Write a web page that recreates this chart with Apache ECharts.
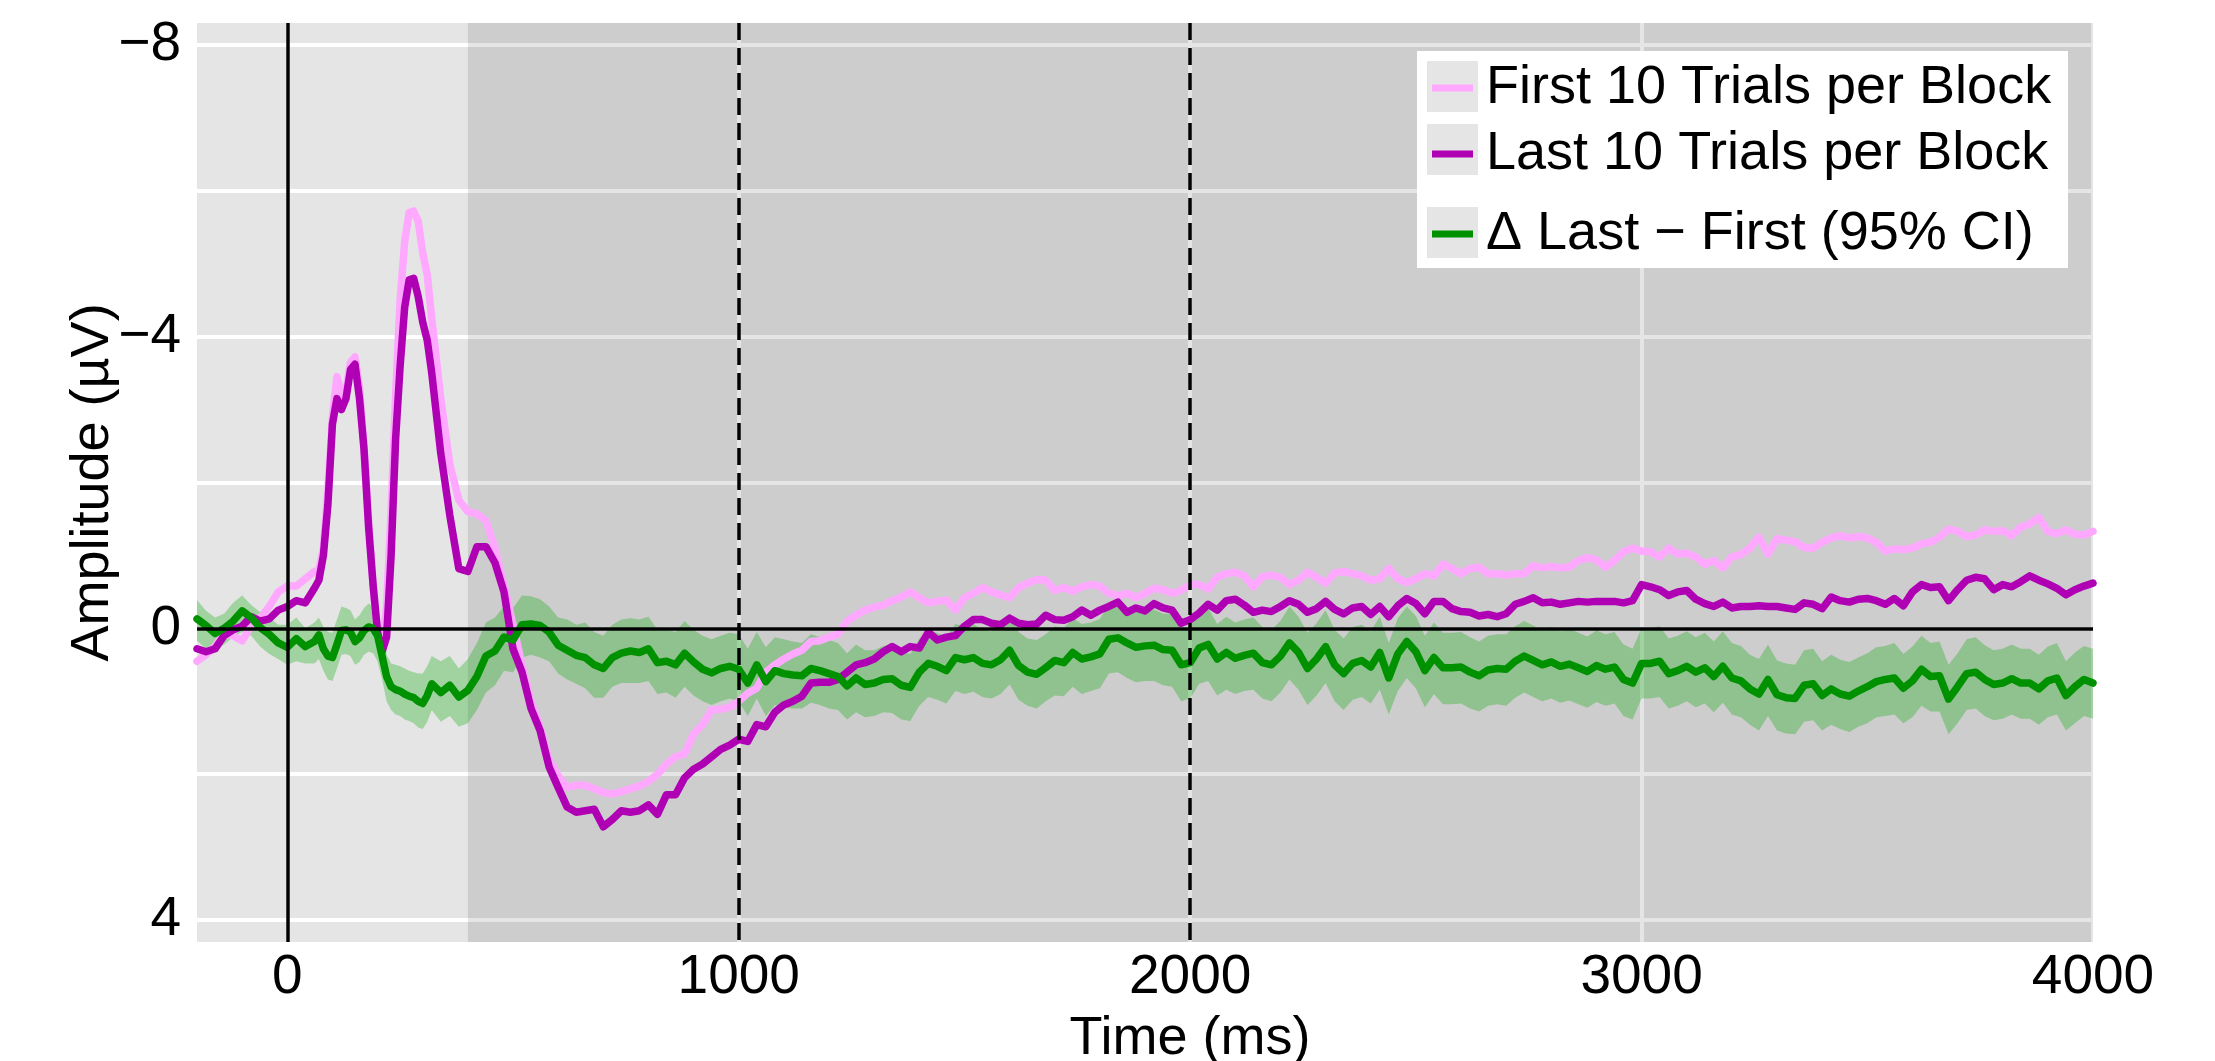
<!DOCTYPE html>
<html>
<head>
<meta charset="utf-8">
<script src="https://cdn.jsdelivr.net/npm/echarts@6/dist/echarts.min.js"></script>
<style>
html,body{margin:0;padding:0;background:#fff;}
#chart{width:2215px;height:1061px;}
</style>
</head>
<body>
<div id="chart"></div>
<script>
// ---- data (time in ms, amplitude in µV) ----
const times = [
  -200,-180,-160,-140,-120,-100,-80,-60,-40,-20,0,20,40,
  60,70,80,90,100,110,120,130,140,150,
  160,170,180,190,200,210,220,230,240,250,
  260,270,280,290,300,310,320,
  340,360,380,400,420,440,460,480,500,520,
  540,560,580,600,620,640,660,680,700,720,
  740,760,780,800,820,840,860,880,900,920,
  940,960,980,1000,1020,1040,1060,1080,1100,1120,
  1140,1160,1180,1200,1220,1240,1260,1280,1300,1320,
  1340,1360,1380,1400,1420,1440,1460,1480,1500,1520,
  1540,1560,1580,1600,1620,1640,1660,1680,1700,1720,
  1740,1760,1780,1800,1820,1840,1860,1880,1900,1920,
  1940,1960,1980,2000,2020,2040,2060,2080,2100,2120,
  2140,2160,2180,2200,2220,2240,2260,2280,2300,2320,
  2340,2360,2380,2400,2420,2440,2460,2480,2500,2520,
  2540,2560,2580,2600,2620,2640,2660,2680,2700,2720,
  2740,2760,2780,2800,2820,2840,2860,2880,2900,2920,
  2940,2960,2980,3000,3020,3040,3060,3080,3100,3120,
  3140,3160,3180,3200,3220,3240,3260,3280,3300,3320,
  3340,3360,3380,3400,3420,3440,3460,3480,3500,3520,
  3540,3560,3580,3600,3620,3640,3660,3680,3700,3720,
  3740,3760,3780,3800,3820,3840,3860,3880,3900,3920,
  3940,3960,3980,4000
];

const firstTrials = [
  .45,.36,.24,.08,.10,.17,-.03,-.14,-.30,-.50,-.58,-.58,-.68,
  -.78,-.80,-1.1,-1.9,-2.9,-3.45,-3.2,-3.25,-3.65,-3.72,
  -3.3,-2.5,-1.5,-.6,.05,.25,-.3,-1.6,-3.2,-4.5,
  -5.3,-5.7,-5.72,-5.58,-5.15,-4.85,-4.25,
  -3.15,-2.25,-1.76,-1.6,-1.57,-1.48,-1.1,-.6,-.05,.5,
  1.0,1.35,1.8,2.02,2.18,2.15,2.15,2.2,2.25,2.27,
  2.24,2.2,2.16,2.1,2.0,1.86,1.76,1.72,1.45,1.32,
  1.12,1.11,1.08,1.0,.89,.82,.6,.5,.42,.35,
  .3,.18,.17,.12,.08,-.1,-.18,-.25,-.29,-.32,
  -.38,-.43,-.5,-.42,-.35,-.37,-.39,-.25,-.42,-.48,
  -.56,-.5,-.46,-.42,-.56,-.62,-.67,-.66,-.52,-.56,
  -.51,-.57,-.6,-.58,-.48,-.45,-.48,-.42,-.48,-.55,
  -.53,-.48,-.52,-.6,-.6,-.54,-.7,-.75,-.77,-.72,
  -.57,-.71,-.73,-.7,-.6,-.66,-.77,-.7,-.62,-.76,
  -.78,-.75,-.72,-.66,-.68,-.82,-.68,-.63,-.68,-.75,
  -.72,-.88,-.82,-.75,-.82,-.84,-.75,-.75,-.73,-.75,
  -.75,-.86,-.83,-.85,-.83,-.84,-.93,-.97,-.94,-.84,
  -.93,-1.05,-1.1,-1.06,-1.05,-.98,-1.1,-1.02,-1.03,-.98,
  -.88,-.93,-.83,-.98,-1.01,-1.1,-1.25,-1.02,-1.23,-1.21,
  -1.19,-1.11,-1.1,-1.18,-1.24,-1.27,-1.24,-1.26,-1.24,-1.18,
  -1.06,-1.09,-1.08,-1.1,-1.16,-1.18,-1.25,-1.36,-1.33,-1.26,
  -1.28,-1.35,-1.33,-1.34,-1.27,-1.39,-1.43,-1.52,-1.33,-1.3,
  -1.35,-1.29,-1.28,-1.33
];

const lastTrials = [
  .28,.32,.28,.10,.02,-.03,-.16,-.10,-.13,-.25,-.30,-.38,-.35,
  -.55,-.66,-1.0,-1.7,-2.8,-3.15,-3.0,-3.15,-3.55,-3.62,
  -3.15,-2.45,-1.4,-.6,.05,.32,.12,-1.0,-2.6,-3.6,
  -4.4,-4.78,-4.8,-4.55,-4.2,-3.95,-3.5,
  -2.4,-1.55,-.82,-.78,-1.12,-1.12,-.9,-.5,.28,.6,
  1.1,1.4,1.9,2.18,2.45,2.52,2.5,2.48,2.72,2.62,
  2.5,2.52,2.5,2.42,2.55,2.28,2.28,2.05,1.93,1.86,
  1.76,1.66,1.6,1.52,1.55,1.32,1.35,1.15,1.05,1.0,
  .93,.75,.74,.74,.7,.6,.5,.47,.42,.32,
  .25,.32,.25,.27,.05,.16,.12,.1,-.03,-.12,
  -.12,-.07,-.05,-.14,-.07,-.05,-.06,-.18,-.12,-.11,
  -.16,-.25,-.18,-.25,-.3,-.36,-.22,-.28,-.24,-.34,
  -.28,-.25,-.07,-.12,-.21,-.33,-.25,-.38,-.4,-.32,
  -.22,-.25,-.23,-.3,-.38,-.33,-.22,-.27,-.37,-.26,
  -.2,-.28,-.3,-.19,-.3,-.16,-.31,-.41,-.34,-.2,
  -.37,-.37,-.27,-.23,-.22,-.17,-.19,-.16,-.2,-.33,
  -.37,-.42,-.35,-.36,-.33,-.35,-.37,-.36,-.37,-.37,
  -.37,-.35,-.38,-.6,-.57,-.53,-.45,-.5,-.52,-.4,
  -.34,-.3,-.36,-.28,-.3,-.3,-.31,-.3,-.3,-.28,
  -.26,-.35,-.33,-.27,-.43,-.38,-.36,-.4,-.41,-.38,
  -.33,-.41,-.31,-.5,-.6,-.56,-.57,-.38,-.53,-.66,
  -.7,-.68,-.53,-.6,-.57,-.64,-.72,-.66,-.61,-.55,
  -.46,-.53,-.58,-.62
];

const diffLastFirst = [
  -.13,-.04,.07,.0,-.10,-.24,-.15,-.01,.08,.2,.26,.14,.25,
  .18,.09,.28,.38,.4,.22,.03,.02,.05,.18,
  .13,.03,-.02,.0,.1,.38,.66,.8,.84,.86,
  .9,.93,.95,1.0,1.03,.92,.76,
  .88,.78,.94,.85,.66,.38,.31,.12,.16,-.05,
  -.06,-.04,.05,.23,.3,.37,.4,.5,.55,.4,
  .34,.31,.33,.28,.47,.45,.5,.34,.46,.56,
  .61,.55,.52,.56,.75,.5,.73,.58,.62,.64,
  .65,.55,.58,.62,.66,.79,.68,.77,.75,.7,
  .69,.78,.81,.6,.48,.52,.58,.4,.43,.4,
  .48,.5,.43,.3,.51,.6,.63,.54,.44,.47,
  .33,.42,.39,.35,.15,.13,.2,.26,.24,.23,
  .29,.3,.5,.47,.27,.22,.42,.33,.41,.37,
  .34,.47,.5,.38,.2,.33,.55,.42,.25,.5,
  .62,.48,.44,.53,.33,.68,.35,.18,.32,.58,
  .4,.54,.54,.53,.6,.65,.57,.55,.56,.45,
  .38,.44,.5,.46,.52,.49,.54,.59,.51,.56,
  .53,.7,.75,.48,.48,.45,.62,.58,.52,.6,
  .54,.66,.52,.68,.72,.83,.9,.7,.91,.95,
  .96,.78,.76,.92,.83,.9,.93,.86,.8,.73,
  .7,.68,.82,.72,.56,.66,.65,.97,.8,.62,
  .6,.7,.77,.75,.69,.75,.75,.83,.72,.68,
  .92,.8,.7,.75
];

const ciLower = [
  -.39,-.24,-.15,-.2,-.35,-.45,-.32,-.22,-.15,-.05,-.05,-.15,.0,
  -.08,-.15,-.02,.05,.06,-.12,-.3,-.28,-.25,-.12,
  -.18,-.28,-.34,-.3,-.2,.08,.36,.48,.5,.52,
  .55,.58,.6,.62,.62,.52,.38,
  .45,.38,.55,.42,.2,-.08,-.15,-.3,-.28,-.45,
  -.44,-.4,-.3,-.15,-.12,-.05,-.08,.05,.1,-.05,
  -.12,-.14,-.12,-.16,.02,.02,.05,-.1,.02,.1,
  .15,.1,.06,.08,.28,.05,.26,.12,.15,.18,
  .2,.08,.12,.16,.2,.34,.22,.3,.3,.24,
  .22,.32,.35,.14,.03,.06,.12,-.06,-.03,-.06,
  .02,.04,-.03,-.18,.05,.14,.16,.08,-.03,.0,
  -.14,-.06,-.08,-.13,-.33,-.35,-.28,-.22,-.24,-.26,
  -.2,-.2,.02,-.02,-.24,-.28,-.06,-.16,-.08,-.12,
  -.15,-.02,.02,-.1,-.3,-.16,.06,-.07,-.25,.02,
  .14,-.02,-.05,.04,-.16,.2,-.14,-.3,-.17,.1,
  -.08,.06,.06,.05,.12,.18,.1,.08,.08,-.03,
  -.1,-.04,.03,-.02,.04,.01,.06,.11,.03,.08,
  .05,.22,.28,.0,.0,-.03,.14,.1,.04,.12,
  .06,.18,.04,.2,.24,.36,.42,.22,.44,.48,
  .5,.3,.28,.45,.36,.43,.46,.4,.34,.26,
  .24,.2,.35,.25,.1,.2,.18,.5,.34,.15,
  .12,.23,.3,.28,.22,.28,.28,.36,.25,.2,
  .45,.33,.24,.28
];

const ciUpper = [
  .17,.28,.3,.22,.12,.05,.1,.25,.35,.42,.5,.45,.48,
  .48,.42,.58,.7,.72,.55,.36,.35,.38,.5,
  .46,.36,.32,.34,.45,.7,1.0,1.12,1.18,1.2,
  1.25,1.27,1.3,1.36,1.38,1.28,1.12,
  1.28,1.2,1.35,1.3,1.12,.88,.78,.58,.6,.4,
  .36,.4,.45,.62,.7,.76,.82,.95,.95,.8,
  .75,.75,.75,.72,.9,.88,.95,.8,.92,1.0,
  1.05,1.0,.96,1.0,1.2,.96,1.2,1.05,1.08,1.1,
  1.1,1.02,1.05,1.1,1.12,1.25,1.15,1.22,1.2,1.15,
  1.16,1.25,1.27,1.06,.94,.98,1.03,.86,.9,.87,
  .94,.96,.9,.77,.98,1.06,1.1,1.0,.92,.93,
  .8,.9,.86,.82,.62,.6,.68,.74,.72,.72,
  .78,.8,1.0,.96,.76,.72,.92,.84,.9,.86,
  .84,.96,1.0,.88,.7,.84,1.05,.92,.75,1.0,
  1.12,.98,.94,1.03,.84,1.18,.86,.68,.82,1.08,
  .9,1.04,1.04,1.03,1.1,1.14,1.06,1.04,1.06,.95,
  .88,.94,1.0,.96,1.02,.99,1.04,1.09,1.01,1.06,
  1.03,1.2,1.25,.96,.96,.94,1.1,1.06,1.0,1.08,
  1.03,1.15,1.02,1.18,1.22,1.32,1.4,1.2,1.4,1.44,
  1.45,1.28,1.26,1.4,1.32,1.38,1.42,1.35,1.3,1.22,
  1.2,1.18,1.3,1.22,1.06,1.14,1.14,1.45,1.3,1.12,
  1.1,1.2,1.26,1.24,1.18,1.24,1.24,1.32,1.22,1.18,
  1.4,1.3,1.2,1.24
];

const xTickLabels = [0, 1000, 2000, 3000, 4000];
const xGridValues = [0, 1000, 2000, 3000, 4000];
const yTickLabels = [-8, -4, 0, 4];
const yGridValues = [-8, -6, -4, -2, 0, 2, 4];
const shadedWindow = [400, 4000];
const solidRefX = [0];
const dashedRefX = [1000, 2000];
const refY = [0];

const names = ['First 10 Trials per Block', 'Last 10 Trials per Block', '\u0394 Last \u2212 First (95% CI)'];
const colors = ['#ffa8ff', '#b000b4', '#009100'];

// ---- build ----
const pairs = arr => times.map((t, i) => [t, arr[i]]);
const FONT = "'Liberation Sans', Arial, Helvetica, sans-serif";
const fmtY = v => (v < 0 ? '\u2212' + Math.abs(v) : String(v));
const fmtX = v => String(v);

const chart = echarts.init(document.getElementById('chart'), null, {renderer: 'canvas'});

const refLines = [];
refY.forEach(v => refLines.push({yAxis: v, lineStyle: {type: 'solid'}}));
solidRefX.forEach(v => refLines.push({xAxis: v, lineStyle: {type: 'solid'}}));
dashedRefX.forEach(v => refLines.push({xAxis: v, lineStyle: {type: [17, 8]}}));

const legendText = {fontSize: 54, fontFamily: FONT, color: '#000', lineHeight: 51, padding: [0, 0, 0, 8]};

function renderBand(params, api) {
  if (params.dataIndex !== 0) return null;
  const upperEdge = times.map((t, i) => api.coord([t, ciLower[i]]));
  const lowerEdge = times.map((t, i) => api.coord([t, ciUpper[i]])).reverse();
  return {
    type: 'polygon',
    shape: {points: upperEdge.concat(lowerEdge)},
    style: {fill: 'rgba(0,170,0,0.3)', stroke: 'none'},
    silent: true
  };
}

const lineStyleFor = c => ({color: c, width: 7.5, join: 'round', cap: 'round'});

chart.setOption({
  animation: false,
  textStyle: {fontFamily: FONT},
  grid: {left: 197, right: 122, top: 23, bottom: 119, show: true, backgroundColor: '#e5e5e5', borderWidth: 0, containLabel: false, outerBoundsMode: 'none'},
  xAxis: {
    type: 'value', min: -200, max: 4000,
    axisLine: {show: false},
    axisTick: {show: false, customValues: xGridValues},
    axisLabel: {customValues: xTickLabels, fontSize: 55, color: '#000', margin: 8, fontFamily: FONT, formatter: fmtX},
    splitLine: {show: true, lineStyle: {color: '#ffffff', width: 4}},
    name: 'Time (ms)', nameLocation: 'middle', nameGap: 70, nameMoveOverlap: false,
    nameTextStyle: {fontSize: 54, color: '#000', fontFamily: FONT, padding: [0, 0, 0, 90]}
  },
  yAxis: {
    type: 'value', min: -8.3, max: 4.3, inverse: true,
    axisLine: {show: false},
    axisTick: {show: false, customValues: yGridValues},
    axisLabel: {customValues: yTickLabels, fontSize: 55, color: '#000', margin: 16, fontFamily: FONT, formatter: fmtY},
    splitLine: {show: true, lineStyle: {color: '#ffffff', width: 4}},
    name: 'Amplitude (\u00b5V)', nameLocation: 'middle', nameGap: 77, nameRotate: 90, nameMoveOverlap: false,
    nameTextStyle: {fontSize: 54, color: '#000', fontFamily: FONT}
  },
  legend: [
    {data: [{name: names[0], icon: 'rect'}, {name: names[1], icon: 'rect'}], orient: 'vertical', left: 1432, top: 61,
     itemWidth: 41, itemHeight: 7, itemGap: 12, selectedMode: false, textStyle: legendText, z: 10, padding: 0},
    {data: [{name: names[2], icon: 'rect'}], orient: 'vertical', left: 1432, top: 207,
     itemWidth: 41, itemHeight: 7, itemGap: 12, selectedMode: false, textStyle: legendText, z: 10, padding: 0}
  ],
  graphic: [
    {type: 'rect', left: 1417, top: 51, z: 9, shape: {width: 651, height: 217}, style: {fill: '#ffffff'}, silent: true},
    {type: 'rect', left: 1427, top: 61, z: 9, shape: {width: 51, height: 51}, style: {fill: '#e5e5e5'}, silent: true},
    {type: 'rect', left: 1427, top: 124, z: 9, shape: {width: 51, height: 51}, style: {fill: '#e5e5e5'}, silent: true},
    {type: 'rect', left: 1427, top: 207, z: 9, shape: {width: 51, height: 51}, style: {fill: '#e5e5e5'}, silent: true}
  ],
  series: [
    {
      name: 'shade', type: 'line', data: [], z: 1, silent: true,
      markArea: {silent: true, itemStyle: {color: 'rgba(0,0,0,0.1)', opacity: 1}, label: {show: false},
        data: [[{xAxis: shadedWindow[0]}, {xAxis: shadedWindow[1]}]]}
    },
    {
      name: 'ciBand', type: 'custom', data: [[times[0], 0]], renderItem: renderBand, z: 2, silent: true, clip: true
    },
    {name: names[0], type: 'line', data: pairs(firstTrials), symbol: 'none', color: colors[0],
     lineStyle: lineStyleFor(colors[0]), z: 3},
    {name: names[1], type: 'line', data: pairs(lastTrials), symbol: 'none', color: colors[1],
     lineStyle: lineStyleFor(colors[1]), z: 3},
    {name: names[2], type: 'line', data: pairs(diffLastFirst), symbol: 'none', color: colors[2],
     lineStyle: lineStyleFor(colors[2]), z: 3},
    {
      name: 'refs', type: 'line', data: [], z: 4, silent: true,
      markLine: {silent: true, symbol: ['none', 'none'], label: {show: false},
        lineStyle: {color: '#000', width: 3.5}, data: refLines, animation: false}
    }
  ]
});
</script>
</body>
</html>
